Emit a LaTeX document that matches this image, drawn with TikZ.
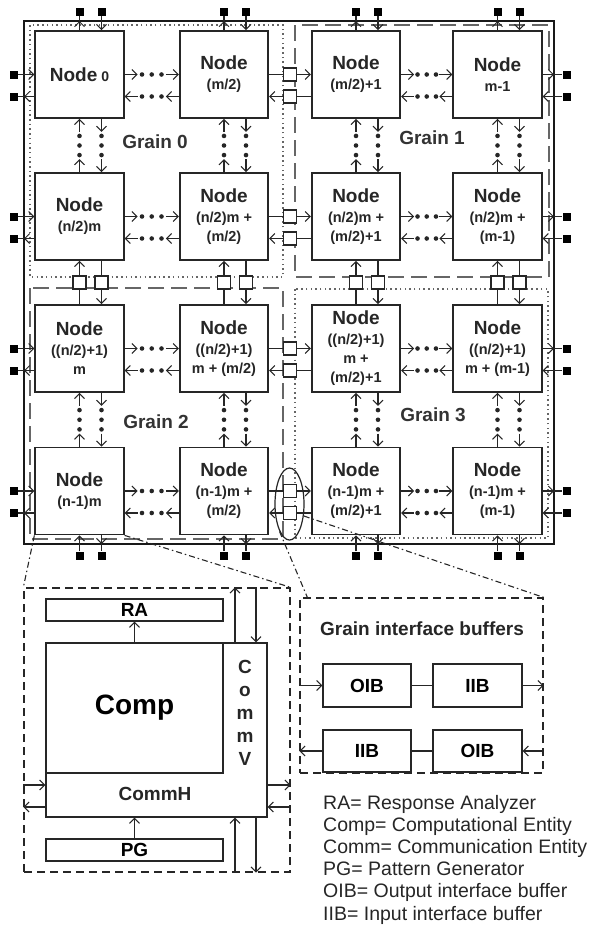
\documentclass[tikz,border=0pt]{standalone}
\usepackage{fontspec}
\setmainfont{Liberation Sans}
\usetikzlibrary{arrows.meta,calc,shapes.geometric}
\begin{document}
\begin{tikzpicture}[x=1pt,y=-1pt,
  >={Straight Barb[length=5pt,width=10pt,line width=1pt]},
  nodebox/.style={draw=black!85, line width=1.8pt, fill=white, minimum width=88.5pt, minimum height=87pt, inner sep=0pt, align=center, text=black!85, font=\fontsize{14.5}{19}\selectfont\bfseries},
  lnk/.style={line width=1.2pt, draw=black!85},
  sq/.style={fill=black, minimum size=8pt, inner sep=0pt},
  buf/.style={draw=black!85, line width=1.2pt, fill=white, minimum size=13pt, inner sep=0pt},
  frame/.style={line width=1.4pt, draw=black!90},
  graindot/.style={line width=1.5pt, draw=black!60, dash pattern=on 1.5pt off 3.2pt},
  graindash/.style={line width=1.5pt, draw=black!60, dash pattern=on 16pt off 7pt},
  grainlbl/.style={font=\fontsize{19}{19}\selectfont\bfseries, text=black!80},
  dbox/.style={draw=black!85, line width=1.3pt, dash pattern=on 8pt off 5pt, inner sep=0pt},
  ibox/.style={draw=black!85, line width=1.4pt, fill=white, inner sep=0pt, font=\fontsize{19}{19}\selectfont\bfseries},
  chain/.style={line width=1.1pt, draw=black!85, dash pattern=on 6pt off 3pt on 1.5pt off 3pt},
  legend/.style={font=\fontsize{19.5}{22}\selectfont, text=black!85, inner sep=0pt}
]
\path[use as bounding box] (0,0) rectangle (590,930);

% ---------- frame and grains ----------
\coordinate (frTL) at (24,21);
\coordinate (frBR) at (554,544);
\coordinate (topy) at (0,11.5);
\coordinate (boty) at (0,555.5);
\coordinate (leftx) at (13.5,0);
\coordinate (rightx) at (566.5,0);

\draw[graindot] (30,25) rectangle (283,277);
\draw[graindash] (295,25) rectangle (549,277);
\draw[graindash] (30,288) rectangle (283,539);
\draw[graindot] (295,289) rectangle (548,538);
\draw[frame] (frTL) rectangle (frBR);

\node[grainlbl] (g0) at (155,142) {Grain 0};
\node[grainlbl] (g1) at (432,138) {Grain 1};
\node[grainlbl] (g2) at (156,422) {Grain 2};
\node[grainlbl] (g3) at (433,415) {Grain 3};

% ---------- nodes ----------
\newcommand\NN{{\fontsize{19}{19}\selectfont Node}}
\node[nodebox] (n11) at (79.5,74.5) {\NN\ {\fontsize{14}{14}\selectfont 0}};
\node[nodebox] (n12) at (224,74.5) {\NN\\[1pt](m/2)};
\node[nodebox] (n13) at (356,74.5) {\NN\\[1pt](m/2)+1};
\node[nodebox] (n14) at (497.5,74.5) {\NN\\[1pt]m-1};
\node[nodebox] (n21) at (79.5,216.5) {\NN\\[1pt](n/2)m};
\node[nodebox] (n22) at (224,216.5) {\NN\\[1pt](n/2)m +\\(m/2)};
\node[nodebox] (n23) at (356,216.5) {\NN\\[1pt](n/2)m +\\(m/2)+1};
\node[nodebox] (n24) at (497.5,216.5) {\NN\\[1pt](n/2)m +\\(m-1)};
\node[nodebox] (n31) at (79.5,348.5) {\NN\\[1pt]((n/2)+1)\\m};
\node[nodebox] (n32) at (224,348.5) {\NN\\[1pt]((n/2)+1)\\m + (m/2)};
\node[nodebox] (n33) at (356,348.5) {\NN\\[1pt]((n/2)+1)\\m +\\(m/2)+1};
\node[nodebox] (n34) at (497.5,348.5) {\NN\\[1pt]((n/2)+1)\\m + (m-1)};
\node[nodebox] (n41) at (79.5,491) {\NN\\[1pt](n-1)m};
\node[nodebox] (n42) at (224,491) {\NN\\[1pt](n-1)m +\\(m/2)};
\node[nodebox] (n43) at (356,491) {\NN\\[1pt](n-1)m +\\(m/2)+1};
\node[nodebox] (n44) at (497.5,491) {\NN\\[1pt](n-1)m +\\(m-1)};

\foreach \rr in {1,...,4}{\foreach \cc in {1,...,4}{
  \coordinate (n\rr\cc-e1) at (n\rr\cc.east);
  \coordinate (n\rr\cc-e2) at ($(n\rr\cc.east)+(0,22)$);
  \coordinate (n\rr\cc-w1) at (n\rr\cc.west);
  \coordinate (n\rr\cc-w2) at ($(n\rr\cc.west)+(0,22)$);
  \coordinate (n\rr\cc-n1) at (n\rr\cc.north);
  \coordinate (n\rr\cc-n2) at ($(n\rr\cc.north)+(22,0)$);
  \coordinate (n\rr\cc-s1) at (n\rr\cc.south);
  \coordinate (n\rr\cc-s2) at ($(n\rr\cc.south)+(22,0)$);
}}

\newcommand\dotlink[2]{%
  \draw[lnk,->] (#1) -- ($(#1)!13pt!(#2)$);
  \draw[lnk,->] ($(#2)!13pt!(#1)$) -- (#2);
  \foreach \fr in {0.32,0.5,0.68}{\fill[black!85] ($(#1)!\fr!(#2)$) circle (2.3pt);}}

% within-grain links
\foreach \rr in {1,...,4}{
  \dotlink{n\rr1-e1}{n\rr2-w1}
  \dotlink{n\rr2-w2}{n\rr1-e2}
  \dotlink{n\rr3-e1}{n\rr4-w1}
  \dotlink{n\rr4-w2}{n\rr3-e2}
}
\foreach \cc in {1,...,4}{
  \dotlink{n2\cc-n1}{n1\cc-s1}
  \dotlink{n1\cc-s2}{n2\cc-n2}
  \dotlink{n4\cc-n1}{n3\cc-s1}
  \dotlink{n3\cc-s2}{n4\cc-n2}
}

% grain interface buffers
\foreach \rr in {1,...,4}{
  \node[buf] (bh\rr-a) at ($(n\rr2-e1)!0.5!(n\rr3-w1)$) {};
  \node[buf] (bh\rr-b) at ($(n\rr2-e2)!0.5!(n\rr3-w2)$) {};
  \draw[lnk] (n\rr2-e1) -- (bh\rr-a);
  \draw[lnk,->] (bh\rr-a) -- (n\rr3-w1);
  \draw[lnk] (n\rr3-w2) -- (bh\rr-b);
  \draw[lnk,->] (bh\rr-b) -- (n\rr2-e2);
}
\foreach \cc in {1,...,4}{
  \node[buf] (bv\cc-a) at ($(n2\cc-s1)!0.5!(n3\cc-n1)$) {};
  \node[buf] (bv\cc-b) at ($(n2\cc-s2)!0.5!(n3\cc-n2)$) {};
  \draw[lnk] (n3\cc-n1) -- (bv\cc-a);
  \draw[lnk,->] (bv\cc-a) -- (n2\cc-s1);
  \draw[lnk] (n2\cc-s2) -- (bv\cc-b);
  \draw[lnk,->] (bv\cc-b) -- (n3\cc-n2);
}

% boundary stubs
\foreach \cc in {1,...,4}{
  \node[sq] (tq\cc-a) at (n1\cc-n1 |- topy) {};
  \node[sq] (tq\cc-b) at (n1\cc-n2 |- topy) {};
  \draw[lnk,->] (n1\cc-n1) -- (n1\cc-n1 |- frTL);
  \draw[lnk] (n1\cc-n1 |- frTL) -- (tq\cc-a);
  \draw[lnk,->] (tq\cc-b) -- (n1\cc-n2);
  \node[sq] (bq\cc-a) at (n4\cc-s1 |- boty) {};
  \node[sq] (bq\cc-b) at (n4\cc-s2 |- boty) {};
  \draw[lnk,->] (bq\cc-a) -- (n4\cc-s1);
  \draw[lnk,->] (n4\cc-s2) -- (n4\cc-s2 |- frBR);
  \draw[lnk] (n4\cc-s2 |- frBR) -- (bq\cc-b);
}
\foreach \rr in {1,...,4}{
  \node[sq] (lq\rr-a) at (n\rr1-w1 -| leftx) {};
  \node[sq] (lq\rr-b) at (n\rr1-w2 -| leftx) {};
  \draw[lnk,->] (lq\rr-a) -- (n\rr1-w1);
  \draw[lnk,->] (n\rr1-w2) -- (n\rr1-w2 -| frTL);
  \draw[lnk] (n\rr1-w2 -| frTL) -- (lq\rr-b);
  \node[sq] (rq\rr-a) at (n\rr4-e1 -| rightx) {};
  \node[sq] (rq\rr-b) at (n\rr4-e2 -| rightx) {};
  \draw[lnk,->] (n\rr4-e1) -- (n\rr4-e1 -| frBR);
  \draw[lnk] (n\rr4-e1 -| frBR) -- (rq\rr-a);
  \draw[lnk,->] (rq\rr-b) -- (n\rr4-e2);
}

% highlight ellipse
\node[ellipse, draw=black!85, line width=1.2pt, minimum width=29pt, minimum height=72pt, inner sep=0pt] (ell) at (289.5,504) {};

% ---------- node internals ----------
\node[dbox, minimum width=266pt, minimum height=284pt] (det) at (157,730) {};
\node[ibox, minimum width=221pt, minimum height=174pt] (comm) at (156.5,730) {};
\node[ibox, minimum width=177pt, minimum height=130pt, font=\fontsize{28}{28}\selectfont\bfseries] (comp) at (134.5,708) {Comp};
\node[ibox, minimum width=177pt, minimum height=22pt] (ra) at (134.5,610) {RA};
\node[ibox, minimum width=177pt, minimum height=22pt] (pg) at (134.5,850) {PG};
\node[font=\fontsize{19}{19}\selectfont\bfseries, text=black!85] (commh) at (155,794) {CommH};
\node[font=\fontsize{19}{23}\selectfont\bfseries, text=black!85, align=center, inner sep=0pt] (commv) at (245,713) {C\\o\\m\\m\\V};

\coordinate (vA) at (235,0);
\coordinate (vB) at (256,0);
\coordinate (hA) at (0,785);
\coordinate (hB) at (0,807);
\draw[lnk,->] (comp.north) -- (ra.south);
\draw[lnk,->] (pg.north) -- (comm.south -| pg.north);
\draw[lnk,->] (comm.north -| vA) -- (det.north -| vA);
\draw[lnk,->] (det.north -| vB) -- (comm.north -| vB);
\draw[lnk,->] (det.south -| vA) -- (comm.south -| vA);
\draw[lnk,->] (comm.south -| vB) -- (det.south -| vB);
\draw[lnk,->] (det.west |- hA) -- (comm.west |- hA);
\draw[lnk,->] (comm.west |- hB) -- (det.west |- hB);
\draw[lnk,->] (comm.east |- hA) -- (det.east |- hA);
\draw[lnk,->] (det.east |- hB) -- (comm.east |- hB);

% ---------- grain interface buffers ----------
\node[dbox, minimum width=243pt, minimum height=175pt] (gib) at (421.5,685.5) {};
\node[font=\fontsize{19}{19}\selectfont\bfseries, text=black!85] (gibt) at (422,629) {Grain interface buffers};
\node[ibox, minimum width=88pt, minimum height=43pt] (oib1) at (367,685.5) {OIB};
\node[ibox, minimum width=89pt, minimum height=43pt] (iib1) at (477.5,685.5) {IIB};
\node[ibox, minimum width=88pt, minimum height=42pt] (iib2) at (367,751) {IIB};
\node[ibox, minimum width=89pt, minimum height=42pt] (oib2) at (477.5,751) {OIB};
\draw[lnk] (oib1) -- (iib1);
\draw[lnk,->] (gib.west |- oib1) -- (oib1);
\draw[lnk,->] (iib1) -- (gib.east |- iib1);
\draw[lnk] (oib2) -- (iib2);
\draw[lnk,->] (iib2) -- (gib.west |- iib2);
\draw[lnk,->] (gib.east |- oib2) -- (oib2);

% zoom lines
\draw[chain] (n41.south west) -- (det.north west);
\draw[chain] (n41.south east) -- (det.north east);
\draw[chain] (ell.-110) -- ($(gib.north west)+(8,0)$);
\draw[chain] (ell.-40) -- (gib.north east);

% ---------- legend ----------
\node[legend, anchor=base west] (lg1) at (323,809) {RA= Response Analyzer};
\node[legend, anchor=base west] (lg2) at (323,831.2) {Comp= Computational Entity};
\node[legend, anchor=base west] (lg3) at (323,853.4) {Comm= Communication Entity};
\node[legend, anchor=base west] (lg4) at (323,875.6) {PG= Pattern Generator};
\node[legend, anchor=base west] (lg5) at (323,897.8) {OIB= Output interface buffer};
\node[legend, anchor=base west] (lg6) at (323,920) {IIB= Input interface buffer};
\end{tikzpicture}
\end{document}
